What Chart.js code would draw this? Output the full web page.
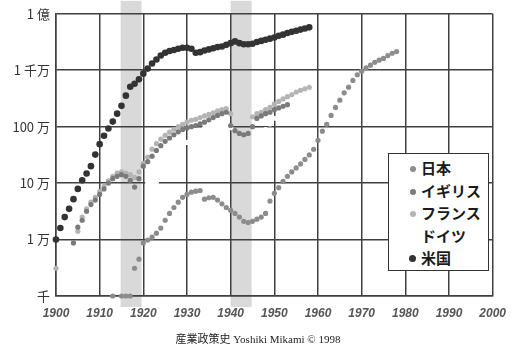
<!DOCTYPE html>
<html><head><meta charset="utf-8">
<script src="https://cdn.jsdelivr.net/npm/chart.js@4"></script>
<style>
html,body{margin:0;padding:0;background:#fff;}
#wrap{position:relative;width:516px;height:347px;}
#legend{position:absolute;left:388px;top:153px;width:99px;height:113px;border:1.5px solid #333;background:#fff;padding-top:3px;box-sizing:content-box;}
.row{position:relative;height:22.5px;line-height:22.5px;font:bold 15px "Noto Sans CJK JP",sans-serif;color:#1a1a1a;}
.row .dot{position:absolute;left:21px;top:9px;width:6px;height:6px;border-radius:50%;}
.row .txt{position:absolute;left:32px;top:0;}
#caption{position:absolute;left:0;width:516px;top:330px;text-align:center;font:11px "Liberation Serif","Noto Sans CJK JP",serif;color:#222;}
</style></head>
<body><div id="wrap"><canvas id="c" width="516" height="347"></canvas><div id="legend"></div><div id="caption">産業政策史 Yoshiki Mikami © 1998</div></div>
<script>
// ---- data ----
const seriesNames = ["日本", "イギリス", "フランス", "ドイツ", "米国"];
const yTickValues = [1000, 10000, 100000, 1000000, 10000000, 100000000];
const yTickLabels = ["千", "1 万", "10 万", "100 万", "1 千万", "1 億"];
const warBands = [[1914.8, 1919.6], [1940, 1944.8]];

const japanYears = [1913,1915,1916,1917,1918,1919,1920,1921,1922,1923,1924,1925,1926,1927,1928,1929,1930,1931,1932,1933,1934,1935,1936,1937,1938,1939,1940,1941,1942,1943,1944,1945,1946,1947,1948,1949,1950,1951,1952,1953,1954,1955,1956,1957,1958,1959,1960,1961,1962,1963,1964,1965,1966,1967,1968,1969,1970,1971,1972,1973,1974,1975,1976,1977,1978];
const japanValues = [1000,1000,1000,1000,3100,4500,8700,9800,11000,13000,16000,22000,29000,37000,46000,56000,63000,69000,72000,74000,52000,55000,56000,50000,43000,37000,33000,29000,25000,21000,20000,21000,23000,25000,29000,48000,66000,83000,107000,132000,158000,186000,219000,263000,316000,398000,575000,832000,1100000,1580000,2190000,2950000,3980000,5010000,6610000,8320000,9550000,11000000,12300000,13800000,15100000,16200000,18200000,20000000,21400000];

const ukYears = [1904,1905,1906,1907,1908,1909,1910,1911,1912,1913,1914,1915,1916,1917,1918,1919,1920,1921,1922,1923,1924,1925,1926,1927,1928,1929,1930,1931,1932,1933,1934,1935,1936,1937,1938,1939,1940,1941,1942,1943,1944,1945,1946,1947,1948,1949,1950,1951,1952,1953];
const ukValues = [8700,16600,22000,31600,41700,50000,63000,79000,100000,120000,132000,141000,132000,112000,85000,120000,200000,240000,300000,380000,460000,550000,630000,720000,810000,890000,950000,1000000,1050000,1120000,1200000,1320000,1450000,1580000,1700000,1800000,1050000,850000,760000,720000,760000,1000000,1400000,1550000,1700000,1800000,2000000,2150000,2300000,2450000];

const franceYears = [1900,1905,1906,1907,1908,1909,1910,1911,1912,1913,1914,1915,1916,1917,1918,1919,1920,1921,1922,1923,1924,1925,1926,1927,1928,1929,1930,1931,1932,1933,1934,1935,1936,1937,1938,1939,1940,1945,1946,1947,1948,1949,1950,1951,1952,1953,1954,1955,1956,1957,1958];
const franceValues = [3100,14000,25000,35000,46000,56000,71000,89000,110000,132000,150000,158000,151000,141000,126000,158000,224000,290000,400000,500000,600000,700000,800000,900000,1000000,1100000,1200000,1300000,1350000,1450000,1550000,1650000,1750000,1900000,2000000,2100000,1700000,1500000,1700000,1800000,2000000,2200000,2500000,2800000,3100000,3400000,3700000,4100000,4400000,4700000,5000000];

const germanyYears = [1921,1922,1923,1924,1925,1926,1927,1928,1929,1930,1931,1932,1933,1934,1935,1936,1937,1938,1939,1940,1948,1949,1950,1951];
const germanyValues = [100000,100000,105000,141000,190000,240000,300000,380000,457000,525000,600000,710000,830000,930000,1000000,1000000,1000000,1020000,1000000,960000,890000,1120000,1410000,1700000];

const usYears = [1900,1901,1902,1903,1904,1905,1906,1907,1908,1909,1910,1911,1912,1913,1914,1915,1916,1917,1918,1919,1920,1921,1922,1923,1924,1925,1926,1927,1928,1929,1930,1931,1932,1933,1934,1935,1936,1937,1938,1939,1940,1941,1942,1943,1944,1945,1946,1947,1948,1949,1950,1951,1952,1953,1954,1955,1956,1957,1958];
const usValues = [10000,16000,25000,35000,52000,79000,112000,148000,200000,320000,490000,690000,930000,1230000,1700000,2340000,3550000,5100000,5750000,6900000,8700000,10700000,13200000,15500000,18200000,20400000,21900000,22900000,24000000,25100000,25100000,24000000,20400000,20900000,22400000,23400000,24500000,25700000,26300000,28200000,30200000,32400000,30200000,28800000,28800000,29500000,31600000,33100000,34700000,36300000,38000000,40700000,42700000,45700000,47900000,50100000,52500000,55000000,57500000];

// ---- build ----
function pts(xs, ys){ return xs.map((x,i)=>({x:x, y:ys[i]})); }
const styles = [
  {color:"#8c8c8c", r:2.6},
  {color:"#7a7a7a", r:2.6},
  {color:"#b4b4b4", r:2.6},
  {color:"#ffffff", r:2.6},
  {color:"#333333", r:3.3}
];
const allData = [pts(japanYears,japanValues), pts(ukYears,ukValues), pts(franceYears,franceValues), pts(germanyYears,germanyValues), pts(usYears,usValues)];
const datasets = seriesNames.map((n,i)=>({
  label:n, data:allData[i], showLine:false,
  pointRadius:styles[i].r, pointHoverRadius:styles[i].r,
  pointBackgroundColor:styles[i].color, pointBorderColor:styles[i].color, pointBorderWidth:0,
  backgroundColor:styles[i].color, borderColor:styles[i].color, clip:false
}));

const bandPlugin = {
  id:'bands',
  beforeDraw(chart){
    const {ctx, chartArea, scales} = chart;
    ctx.save();
    ctx.fillStyle = '#d9d9d9';
    warBands.forEach(b=>{
      const x0 = scales.x.getPixelForValue(b[0]);
      const x1 = scales.x.getPixelForValue(b[1]);
      ctx.fillRect(x0, chartArea.top - 13, x1 - x0, chartArea.bottom - chartArea.top + 24);
    });
    ctx.restore();
  }
};

const gridColor = '#404040';
new Chart(document.getElementById('c'), {
  type:'scatter',
  data:{datasets},
  plugins:[bandPlugin],
  options:{
    responsive:false, animation:false, devicePixelRatio:1,
    layout:{padding:{top:13,right:13,left:0,bottom:0}},
    plugins:{legend:{display:false}, tooltip:{enabled:false}},
    scales:{
      x:{type:'linear', min:1900, max:2000,
        afterFit(s){ s.height = 51; },
        ticks:{stepSize:10, padding:10, color:'#555', font:{family:'"Liberation Sans", Arial, sans-serif', size:12, style:'italic', weight:'bold'}, callback:(v)=>String(v), maxRotation:0},
        grid:{color:gridColor, lineWidth:1.5, drawTicks:false},
        border:{color:gridColor, width:1.5}
      },
      y:{type:'logarithmic', min:1000, max:100000000,
        afterFit(s){ s.width = 56; },
        afterBuildTicks(s){ s.ticks = yTickValues.map(v=>({value:v, major:true})); },
        ticks:{padding:6, color:'#333', font:{family:'"Noto Sans CJK JP", sans-serif', size:13},
          callback:(v)=>{ const k = yTickValues.indexOf(v); return k>=0 ? yTickLabels[k] : ''; }},
        grid:{color:gridColor, lineWidth:1.5, drawTicks:false},
        border:{color:gridColor, width:1.5}
      }
    }
  }
});

// HTML legend built from the datasets
const lg = document.getElementById('legend');
datasets.forEach((d,i)=>{
  const row = document.createElement('div'); row.className='row';
  const dot = document.createElement('span'); dot.className='dot';
  dot.style.background = styles[i].color;
  if(i===4){ dot.style.width='7px'; dot.style.height='7px'; dot.style.left='20px'; dot.style.top='8px'; }
  const t = document.createElement('span'); t.className='txt'; t.textContent = d.label;
  row.appendChild(dot); row.appendChild(t); lg.appendChild(row);
});
</script>
</body></html>
